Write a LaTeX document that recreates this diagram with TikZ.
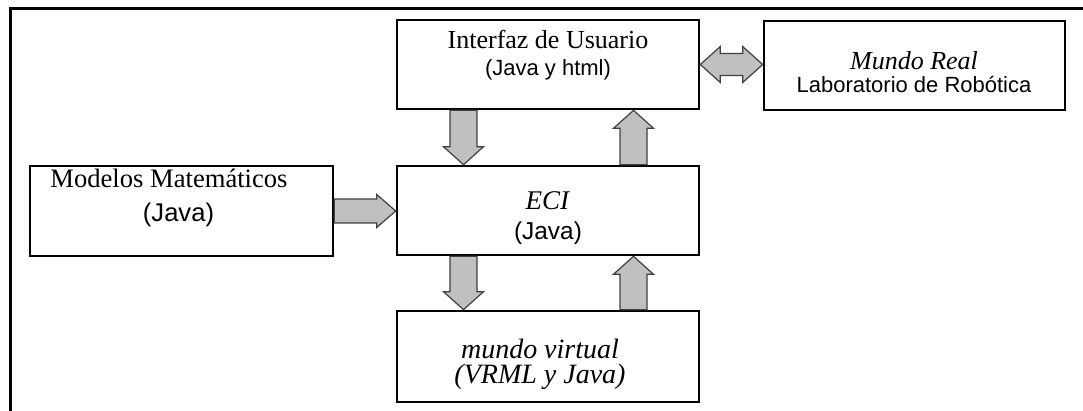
\documentclass[tikz,border=0pt]{standalone}
\usepackage{fontspec}
\setmainfont{Liberation Serif}
\setsansfont{Liberation Sans}
\usetikzlibrary{calc}

\definecolor{gris}{RGB}{192,192,192}

\tikzset{
  caja/.style={draw, line width=1.3pt, minimum width=151pt, minimum height=44.5pt, inner sep=0pt},
  texto/.style={align=center, inner sep=0pt},
  flecha/.style={draw=black!75, line width=0.6pt, fill=gris, line join=miter},
}

% block arrow from #1 to #2: shaft half width #3, head half width #4, head length #5
\newcommand{\flechabloque}[5]{%
  \path[flecha] let \p1=(#1), \p2=(#2),
    \n1={atan2((\y2)-(\y1),(\x2)-(\x1))}, \n2={veclen((\x2)-(\x1),(\y2)-(\y1))} in
    [shift={(\p1)}, rotate=\n1]
    (0pt,-#3) -- (\n2-#5,-#3) -- (\n2-#5,-#4) -- (\n2,0pt) -- (\n2-#5,#4) -- (\n2-#5,#3) -- (0pt,#3) -- cycle;}
% same with a head at both ends
\newcommand{\flechadoble}[5]{%
  \path[flecha] let \p1=(#1), \p2=(#2),
    \n1={atan2((\y2)-(\y1),(\x2)-(\x1))}, \n2={veclen((\x2)-(\x1),(\y2)-(\y1))} in
    [shift={(\p1)}, rotate=\n1]
    (0pt,0pt) -- (#5,#4) -- (#5,#3) -- (\n2-#5,#3) -- (\n2-#5,#4) -- (\n2,0pt)
    -- (\n2-#5,-#4) -- (\n2-#5,-#3) -- (#5,-#3) -- (#5,-#4) -- cycle;}

\begin{document}
\begin{tikzpicture}[x=0.5pt,y=-0.5pt]
  \useasboundingbox (0,0) rectangle (1083,411);
  % frame
  \draw[line width=1.5pt] (10.5,411) -- (10.5,9) -- (1083,9);

  % boxes
  \node[caja] (iface) at (548,64.5) {};
  \node[caja, minimum width=150.5pt] (real) at (914.5,65.5) {};
  \node[caja, minimum width=151.5pt, minimum height=45pt] (mate) at (181.5,211) {};
  \node[caja] (eci) at (548,210.5) {};
  \node[caja, minimum height=45.5pt] (virt) at (548,356.5) {};

  % texts
  \node[texto, font=\fontsize{13}{13.5}\selectfont] (iface-t) at (548,55)
    {Interfaz de Usuario\\{\fontsize{11}{13}\selectfont\sffamily (Java y html)}};
  \node[texto, font=\fontsize{13}{11.5}\selectfont] (real-t) at (914,72)
    {\textit{Mundo Real}\\{\fontsize{11}{13}\selectfont\sffamily Laboratorio de Robótica}};
  \node[texto, font=\fontsize{13.3}{17}\selectfont] (mate-t) at (169,198)
    {Modelos Matemáticos\\{\fontsize{12.8}{14}\selectfont\sffamily\hspace{9.5pt}(Java)}};
  \node[texto, font=\fontsize{13.5}{15}\selectfont] (eci-t) at (548,218)
    {\textit{ECI}\\{\fontsize{12.2}{13}\selectfont\sffamily (Java)}};
  \node[texto, font=\fontsize{14}{12.5}\selectfont\itshape] (virt-t) at (540,364)
    {mundo virtual\\(VRML y Java)};

  % arrows
  \flechadoble{iface.east}{iface.east -| real.west}{5.5pt}{9pt}{10pt}
  \flechabloque{mate.east}{mate.east -| eci.west}{6pt}{8.25pt}{9.5pt}
  \flechabloque{$(iface.south)+(-84.5,0)$}{$(eci.north)+(-84.5,0)$}{6.75pt}{10pt}{9pt}
  \flechabloque{$(eci.north)+(85.5,0)$}{$(iface.south)+(85.5,0)$}{6.75pt}{10pt}{9pt}
  \flechabloque{$(eci.south)+(-84.5,0)$}{$(virt.north)+(-84.5,0)$}{6.75pt}{10pt}{9pt}
  \flechabloque{$(virt.north)+(85.5,0)$}{$(eci.south)+(85.5,0)$}{6.75pt}{10pt}{9pt}
\end{tikzpicture}
\end{document}
